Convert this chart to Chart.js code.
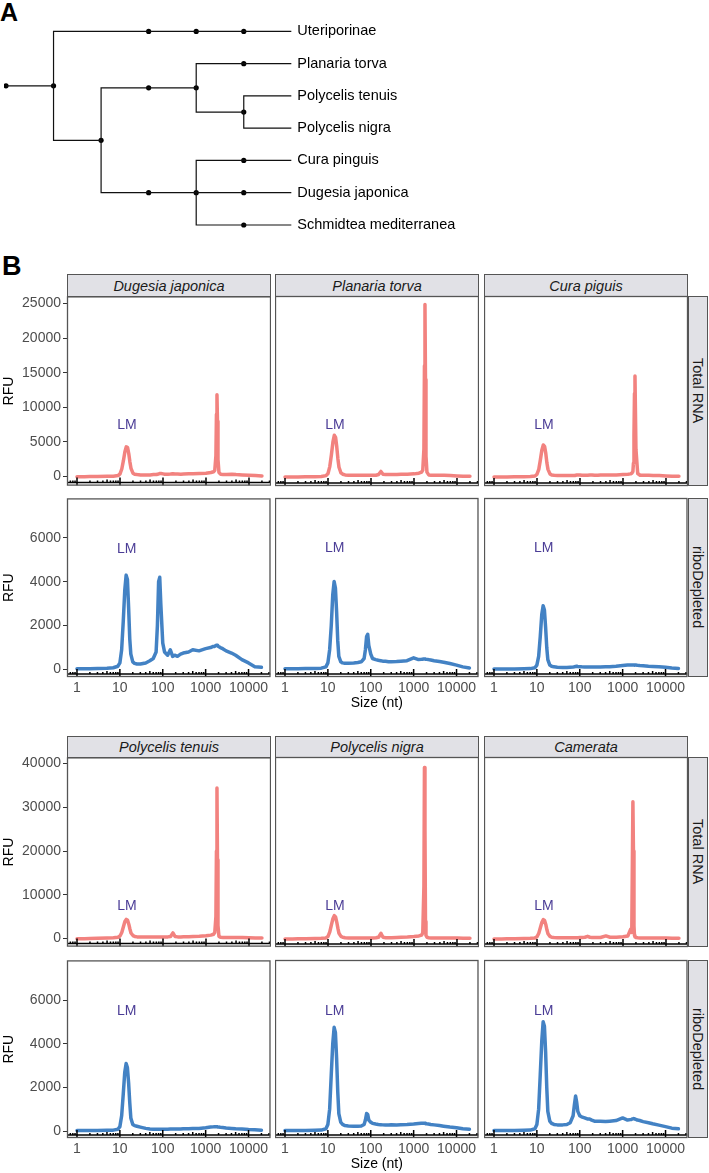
<!DOCTYPE html>
<html><head><meta charset="utf-8">
<script src="https://cdn.jsdelivr.net/npm/chart.js@4.4.1/dist/chart.umd.min.js"></script>
<style>
html,body{margin:0;padding:0;background:#fff;}
body{width:709px;height:1173px;position:relative;overflow:hidden;font-family:"Liberation Sans",Arial,Helvetica,sans-serif;}
canvas{position:absolute;}
.lab{position:absolute;font-weight:bold;color:#000;line-height:1;}
.strip{position:absolute;box-sizing:border-box;background:#E1E1E6;border:1px solid #555;font-style:italic;font-size:14.5px;color:#1a1a1a;display:flex;align-items:center;justify-content:center;}
.rstrip{position:absolute;box-sizing:border-box;background:#E1E1E6;border:1px solid #555;font-size:14.5px;color:#1a1a1a;display:flex;align-items:center;justify-content:center;writing-mode:vertical-rl;}
</style></head><body>
<div class="lab" style="left:0px;top:0px;font-size:25px;">A</div>
<div class="lab" style="left:2px;top:253px;font-size:27px;">B</div>
<script>
// ---------------- Tree data ----------------
const treeNodes   = ['r','a','u3','u4','u5','Uteriporinae','b','c3','c','pt5','Planaria torva','d','Polycelis tenuis','Polycelis nigra','e3','e','cp5','Cura pinguis','dj5','Dugesia japonica','sm5','Schmidtea mediterranea'];
const treeParents = [null,'r','a','u3','u4','u5','a','b','c3','c','pt5','c','d','d','b','e3','e','cp5','e','dj5','e','sm5'];
const treeDepths  = [0,1,3,4,5,6,2,3,4,5,6,5,6,6,3,4,5,6,5,6,5,6];

// ---------------- Electropherogram data ----------------
const sizes = [1,1.5,2,3,5,7,9,10,11,12,
  13,14,15,16,17,18,20,22,25,30,
  40,50,60,70,75,80,85,90,100,110,
  130,150,170,190,220,260,300,400,500,700,
  1000,1300,1500,1600,1700,1750,1800,1850,1900,2000,
  2200,2500,3000,4000,5000,7000,10000,14000,20000];

const totalDugesia = [0,0,20,30,50,60,150,400,1100,2300,
  3600,4300,4200,3300,2100,1200,500,350,300,250,
  250,250,300,300,350,400,450,450,400,350,
  350,380,420,380,380,350,380,400,420,450,
  500,600,700,900,3000,9000,11800,8000,2500,600,
  350,300,300,350,300,250,200,150,100];
const totalPlanaria = [0,0,10,20,40,60,200,500,1500,3200,
  5000,6000,5700,4300,2600,1400,600,400,300,250,
  250,250,250,250,250,250,250,250,250,250,
  250,350,800,400,350,350,350,350,400,400,
  450,550,700,1000,4000,16000,24800,14000,3000,700,
  300,250,250,250,250,200,150,100,100];
const totalCura = [0,0,10,20,40,60,150,400,1100,2500,
  3900,4600,4400,3400,2000,1100,450,300,250,200,
  200,200,200,200,200,250,300,300,300,250,
  250,250,300,300,250,250,300,300,300,300,
  350,400,450,550,800,2000,6000,12000,14500,4000,
  500,250,250,250,200,200,150,100,100];
const riboDugesia = [30,30,40,50,60,80,150,300,900,2200,
  3600,4300,4100,2800,1400,700,350,280,250,250,
  300,400,500,800,2000,4000,4200,3000,1200,800,
  650,900,600,650,600,700,750,800,900,850,
  950,1000,1050,1050,1080,1100,1100,1100,1080,1050,
  1000,950,850,750,650,450,300,130,100];
const riboPlanaria = [30,30,30,40,40,60,120,300,900,2000,
  3400,4000,3700,2600,1300,600,350,300,280,280,
  300,320,350,500,900,1500,1600,1100,700,500,
  450,420,400,380,370,350,350,360,380,400,
  530,450,460,470,480,480,480,480,470,460,
  450,430,400,360,330,270,200,120,70];
const riboCura = [20,20,20,20,30,40,80,200,600,1500,
  2500,2900,2700,1900,1000,450,200,150,120,100,
  90,90,100,110,120,140,150,140,130,120,
  110,110,110,110,110,110,110,120,130,150,
  180,200,210,210,210,210,210,210,200,200,
  190,180,170,150,140,120,100,70,50];
const totalTenuis = [0,0,50,100,150,200,300,600,1400,2700,
  3900,4400,4200,3300,2200,1300,700,500,400,350,
  350,350,350,350,350,350,350,350,380,400,
  400,500,1300,500,400,400,450,450,500,550,
  650,800,1000,1400,5000,20000,34400,18000,3000,500,
  300,250,250,250,250,250,200,150,150];
const totalNigra = [0,0,30,60,100,150,250,600,1600,3200,
  4600,5300,5000,3800,2400,1300,600,400,300,250,
  250,250,250,250,250,250,250,250,250,250,
  300,400,1300,400,300,300,300,350,400,450,
  550,700,900,1400,12000,39000,25000,4000,800,400,
  300,250,250,250,250,200,200,150,150];
const totalCamerata = [0,0,30,60,100,150,250,500,1300,2600,
  3800,4400,4200,3300,2100,1200,600,400,350,300,
  300,300,300,300,300,300,300,300,350,350,
  400,600,400,350,350,350,350,700,400,400,
  500,700,2200,1500,31200,20000,3000,800,500,350,
  300,250,250,250,250,200,200,150,150];
const riboTenuis = [20,20,20,20,30,40,80,200,700,1700,
  2700,3100,2900,2200,1300,600,300,250,220,180,
  120,90,80,80,80,80,80,80,80,80,
  80,90,90,90,90,90,100,100,110,120,
  150,180,190,200,200,200,200,200,190,180,
  170,160,140,120,100,90,70,60,40];
const riboNigra = [20,20,20,20,30,40,100,300,1000,2600,
  4000,4750,4500,3300,1800,800,400,300,250,230,
  220,220,230,300,500,800,750,500,400,350,
  320,300,290,280,270,280,290,280,290,300,
  320,340,350,350,350,350,350,350,340,330,
  320,300,280,250,220,180,150,100,80];
const riboCamerata = [20,20,20,20,30,40,100,300,1000,2600,
  4100,5000,4800,3600,2000,900,450,350,300,280,
  280,300,380,700,1200,1600,1300,900,700,650,
  600,550,550,500,450,450,450,430,450,480,
  600,500,520,530,550,560,570,560,550,540,
  500,480,430,380,330,270,200,130,100];

const speciesTop = ['Dugesia japonica','Planaria torva','Cura piguis'];
const speciesBottom = ['Polycelis tenuis','Polycelis nigra','Camerata'];
const rowLabels = ['Total RNA','riboDepleted'];
const xTickValues = [1,10,100,1000,10000];
const yTicksTotalTop = [0,5000,10000,15000,20000,25000];
const yTicksTotalBottom = [0,10000,20000,30000,40000];
const yTicksRibo = [0,2000,4000,6000];
const lmLabel = 'LM';
const lmSize = 14.5;
const lmTotal = 7500;
const lmRibo = 5500;

// ---------------- Styling / layout ----------------
const FONT = '"Liberation Sans", Arial, Helvetica, sans-serif';
Chart.defaults.font.family = FONT;
const PINK = '#F2827F', BLUE = '#4382C4', LMCOL = '#4B3D96';
const W = 204, colLeft = [67, 275, 484];
const blocks = [
  {strip:274, r1:[296,486], r2:[498,677], names: speciesTop, yr:[[-1293,26006],[-341,7795]], yt:[yTicksTotalTop, yTicksRibo]},
  {strip:736, r1:[757,947], r2:[960,1138], names: speciesBottom, yr:[[-1818,41364],[-321,7833]], yt:[yTicksTotalBottom, yTicksRibo]}
];
const panelData = [
  [[totalDugesia,totalPlanaria,totalCura],[riboDugesia,riboPlanaria,riboCura]],
  [[totalTenuis,totalNigra,totalCamerata],[riboTenuis,riboNigra,riboCamerata]]
];

// ---------------- Tree ----------------
(function(){
  const idx = {}; treeNodes.forEach((n,i)=>idx[n]=i);
  const children = treeNodes.map(()=>[]);
  treeParents.forEach((p,i)=>{ if(p!==null) children[idx[p]].push(i); });
  const yPos = new Array(treeNodes.length);
  let leafCount = 0;
  function place(i){
    if(children[i].length===0){ yPos[i]=leafCount++; return yPos[i]; }
    const ys = children[i].map(place);
    yPos[i] = (Math.min(...ys)+Math.max(...ys))/2; return yPos[i];
  }
  place(0);
  const datasets = [];
  treeParents.forEach((p,i)=>{
    if(p===null) return;
    const pi = idx[p];
    datasets.push({data:[{x:treeDepths[pi],y:yPos[pi]},{x:treeDepths[pi],y:yPos[i]},{x:treeDepths[i],y:yPos[i]}],
      showLine:true, borderColor:'#111', borderWidth:1.2, pointRadius:0, fill:false, tension:0});
  });
  const dots = [];
  treeNodes.forEach((n,i)=>{ if(children[i].length>0) dots.push({x:treeDepths[i], y:yPos[i]}); });
  datasets.push({data:dots, showLine:false, pointRadius:2.6, pointBackgroundColor:'#000', pointBorderWidth:0});
  const leaves = treeNodes.map((n,i)=>({name:n, d:treeDepths[i], y:yPos[i], leaf:children[i].length===0})).filter(o=>o.leaf);
  const cv = document.createElement('canvas');
  cv.width=709; cv.height=250; cv.style.left='0px'; cv.style.top='0px';
  document.body.appendChild(cv);
  const step = 48.1, rowStep = 33.33;
  new Chart(cv, {
    type:'scatter',
    data:{datasets},
    options:{responsive:false, animation:false, events:[], devicePixelRatio:1,
      layout:{padding:0},
      plugins:{legend:{display:false}, tooltip:{enabled:false}},
      scales:{
        x:{type:'linear', display:false, min:-2/step, max:-2/step+709/step},
        y:{type:'linear', display:false, reverse:true, min:-28.3/rowStep, max:-28.3/rowStep+250/rowStep}
      }
    },
    plugins:[{id:'treeLabels', afterDatasetsDraw(chart){
      const {ctx, scales:{x,y}} = chart;
      ctx.save(); ctx.font='14.5px '+FONT; ctx.fillStyle='#000'; ctx.textAlign='left'; ctx.textBaseline='middle';
      leaves.forEach(l=>ctx.fillText(l.name, x.getPixelForValue(l.d)+6, y.getPixelForValue(l.y)));
      ctx.restore();
    }}]
  });
})();

// ---------------- Strips ----------------
blocks.forEach(blk=>{
  blk.names.forEach((nm,c)=>{
    const d = document.createElement('div'); d.className='strip';
    d.style.left=colLeft[c]+'px'; d.style.top=blk.strip+'px'; d.style.width=W+'px'; d.style.height=(blk.r1[0]-blk.strip+1)+'px';
    d.textContent=nm; document.body.appendChild(d);
  });
  [blk.r1, blk.r2].forEach((rr,r)=>{
    const d = document.createElement('div'); d.className='rstrip';
    d.style.left='688px'; d.style.top=rr[0]+'px'; d.style.width='20px'; d.style.height=(rr[1]-rr[0])+'px';
    d.textContent=rowLabels[r]; document.body.appendChild(d);
  });
});

// ---------------- Panels ----------------
const minorMult = [2,3,4,5,6,7,8,9];
const panelDeco = {
  id:'panelDeco',
  afterDatasetsDraw(chart){
    const o = chart.options.plugins.panelDeco;
    const {ctx, chartArea:a, scales:{x,y}} = chart;
    ctx.save();
    ctx.beginPath(); ctx.rect(a.left, a.top, a.width, a.height); ctx.clip();
    // LM label
    ctx.fillStyle = LMCOL; ctx.font = '14px '+FONT; ctx.textAlign='center'; ctx.textBaseline='middle';
    ctx.fillText(lmLabel, x.getPixelForValue(lmSize), y.getPixelForValue(o.lmY));
    // log ticks along bottom
    const y0 = a.bottom - 3;
    ctx.strokeStyle = '#000'; ctx.lineWidth = 1.5;
    ctx.beginPath(); ctx.moveTo(a.left, y0); ctx.lineTo(a.right, y0); ctx.stroke();
    [0.1,1,10,100,1000,10000].forEach(dec=>{
      const px = x.getPixelForValue(dec);
      if(px>=a.left && px<=a.right){ ctx.beginPath(); ctx.moveTo(px, y0-5); ctx.lineTo(px, y0+3); ctx.stroke(); }
      minorMult.forEach(m=>{
        const v = dec*m; const p = x.getPixelForValue(v);
        if(p<a.left+1 || p>a.right-1) return;
        const len = m===5 ? 3 : 2;
        ctx.beginPath(); ctx.moveTo(p, y0-len); ctx.lineTo(p, y0); ctx.stroke();
      });
    });
    ctx.restore();
    // border
    ctx.save(); ctx.strokeStyle='#555'; ctx.lineWidth=1.3;
    ctx.strokeRect(a.left+0.5, a.top+0.5, a.width-1, a.height-1);
    ctx.restore();
  }
};

function makePanel(b, r, c){
  const blk = blocks[b];
  const [T,B] = r===0 ? blk.r1 : blk.r2;
  const values = panelData[b][r][c];
  const left = c===0 ? 0 : colLeft[c];
  const width = c===0 ? colLeft[0]+W : W;
  const top = T - 10;
  const height = (B - T) + 10 + (r===1 ? 40 : 10);
  const cv = document.createElement('canvas');
  cv.width = width; cv.height = height;
  cv.style.left = left+'px'; cv.style.top = top+'px';
  document.body.appendChild(cv);
  const yt = blk.yt[r];
  const showX = r===1, showY = c===0;
  new Chart(cv, {
    type:'line',
    data:{datasets:[{data: sizes.map((s,i)=>({x:s, y:values[i]})), borderColor: r===0?PINK:BLUE, borderWidth:3.5,
      pointRadius:0, fill:false, tension:0, borderJoinStyle:'round', borderCapStyle:'round'}]},
    options:{
      responsive:false, animation:false, events:[], devicePixelRatio:1,
      layout:{padding:{top:10, bottom: showX?0:10, left:0, right:0}},
      plugins:{legend:{display:false}, tooltip:{enabled:false}, panelDeco:{lmY: r===0?lmTotal:lmRibo}},
      scales:{
        x:{type:'logarithmic', min:0.585, max:32500, display: showX,
          afterBuildTicks: s=>{ s.ticks = xTickValues.map(v=>({value:v})); },
          afterFit: s=>{ if(showX) s.height = 40; },
          grid:{display:false, drawTicks:false}, border:{display:false},
          ticks:{autoSkip:false, maxRotation:0, minRotation:0, padding:3, color:'#4d4d4d', font:{size:14}, callback:v=>String(v)},
          title:{display: showX && c===1, text:'Size (nt)', color:'#000', font:{size:14}, padding:{top:0, bottom:5}}
        },
        y:{type:'linear', min: blk.yr[r][0], max: blk.yr[r][1], display: showY,
          afterBuildTicks: s=>{ s.ticks = yt.map(v=>({value:v})); },
          afterFit: s=>{ if(showY) s.width = 67; },
          grid:{drawOnChartArea:false, drawTicks:true, tickLength:4, color:'#333', lineWidth:1}, border:{display:false},
          ticks:{padding:2, color:'#4d4d4d', font:{size:14}, callback:v=>String(v)},
          title:{display:true, text:'RFU', color:'#000', font:{size:14}, padding:{top:1, bottom:0}}
        }
      }
    },
    plugins:[panelDeco]
  });
}
for(let b=0;b<2;b++) for(let r=0;r<2;r++) for(let c=0;c<3;c++) makePanel(b,r,c);
</script>
</body></html>
